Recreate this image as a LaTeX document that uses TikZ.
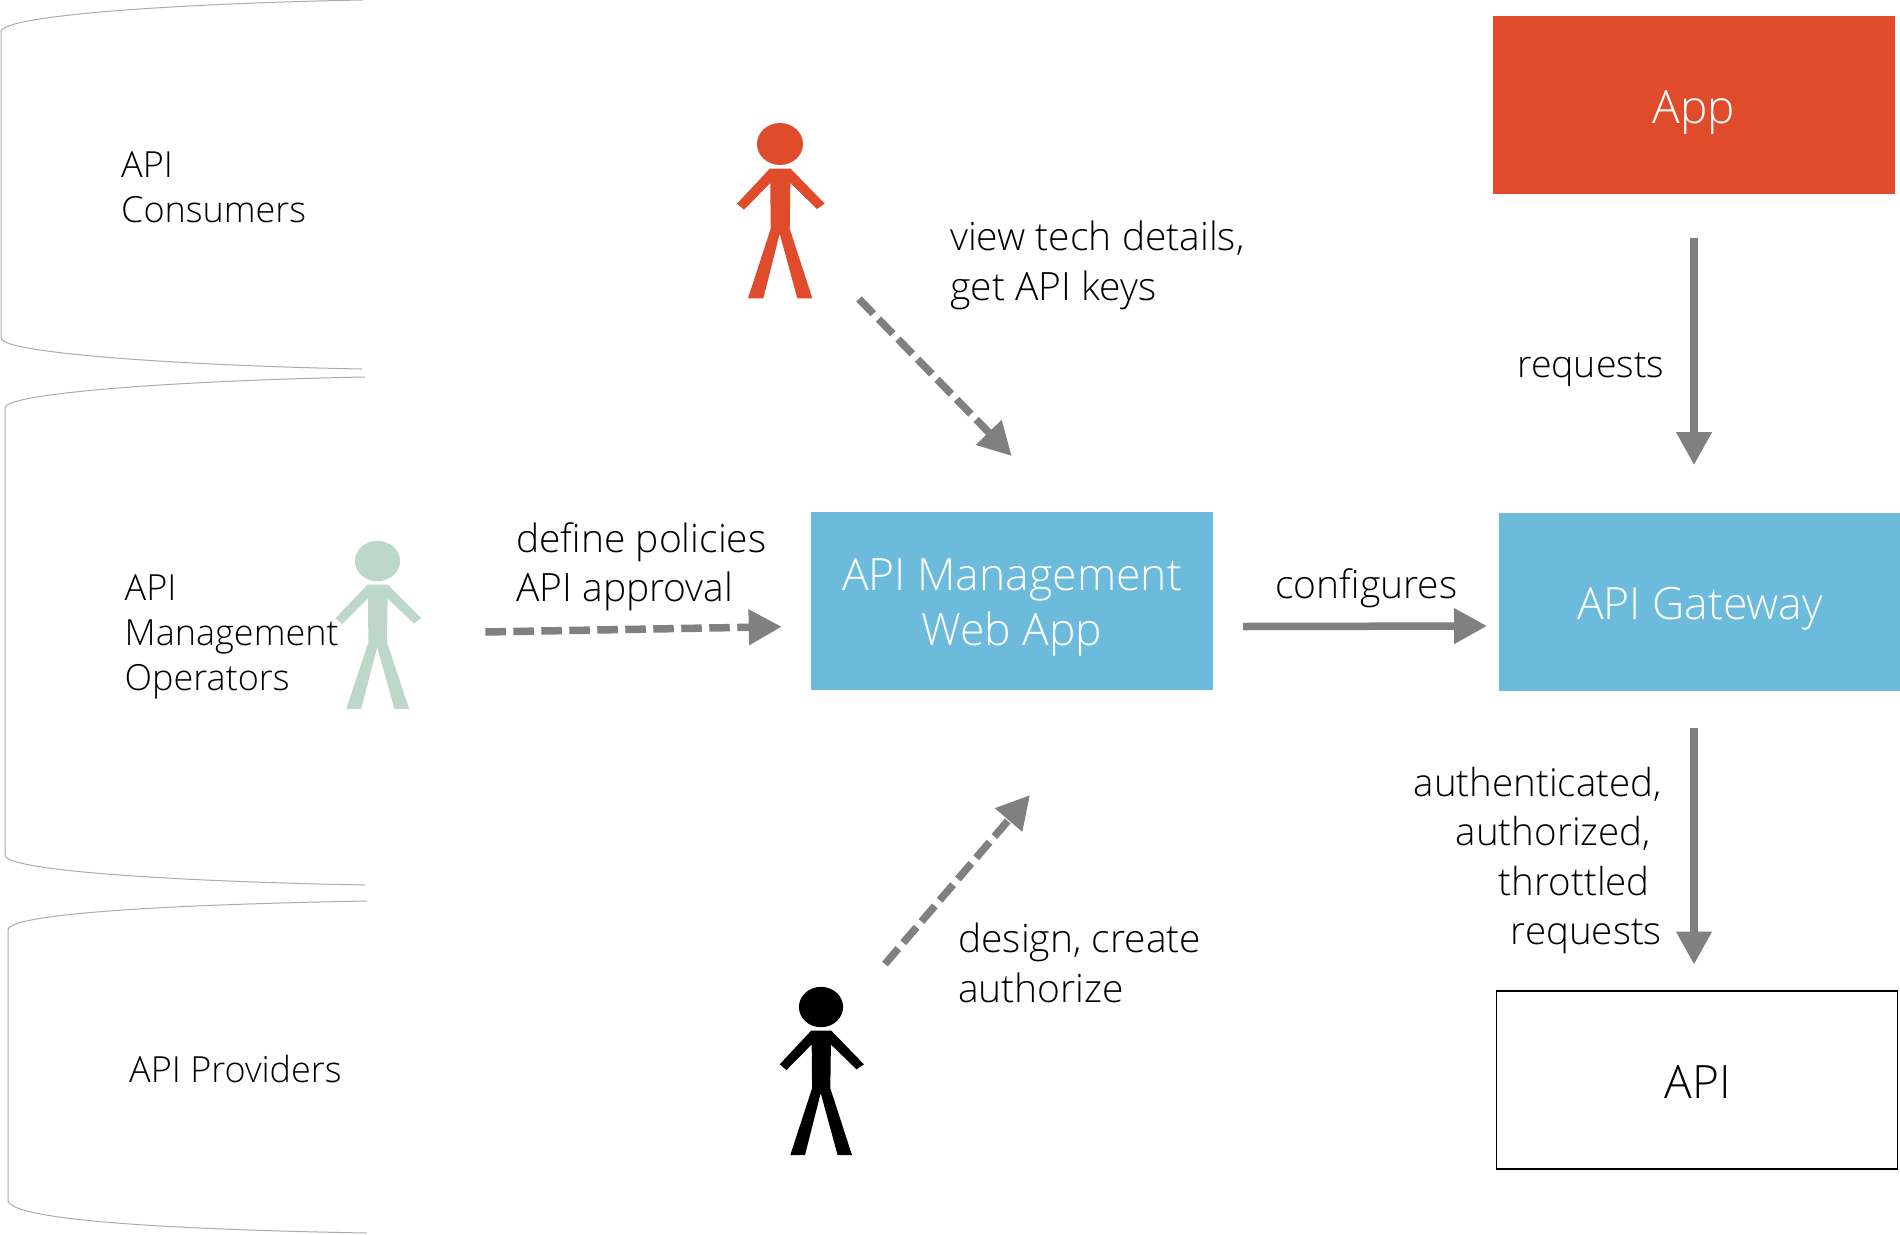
\documentclass[tikz,border=0pt]{standalone}
\usepackage{fontspec}
\setmainfont{Open Sans}[UprightFont=* Light]
\usetikzlibrary{arrows.meta}
\definecolor{arrowgrey}{HTML}{808080}
\definecolor{appred}{HTML}{E04C2B}
\definecolor{webblue}{HTML}{6CBBDD}
\definecolor{opgreen}{HTML}{BDD7CA}
\definecolor{laneline}{HTML}{ABABAB}
\tikzset{
  lane/.style={draw=laneline,line width=1pt},
  box/.style={minimum width=402pt,minimum height=178pt,inner sep=0pt,font=\fontsize{46}{55}\selectfont,align=center},
  smallbox/.style={box,font=\fontsize{44.5}{55}\selectfont},
  flow/.style={arrowgrey,line width=7.5pt,-{Triangle[length=33pt,width=34pt]}},
  dashflow/.style={flow,dash pattern=on 20.5pt off 7.5pt},
  lbl/.style={inner sep=0pt,anchor=north west,align=left,font=\fontsize{36}{45}\selectfont,text=black},
  note/.style={inner sep=0pt,anchor=north west,align=left,font=\fontsize{39}{49.5}\selectfont,text=black},
}
\newcommand{\stickman}[5]{% x y colour xscale yscale
  \begin{scope}[shift={(#1,#2)},xscale=#4,yscale=#5]
    \fill[#3] (0,0) ellipse [x radius=23pt,y radius=21pt];
    \fill[#3] (-10.3,24.7)--(10.7,24.7)--(44.7,59.7)--(37,65)--(10.3,39)--(9.7,84.7)--(32.3,154.3)--(17.3,154.3)--(-0.3,89.7)--(-16.7,154.3)--(-32,154.3)--(-9.3,84.7)--(-9.7,39)--(-36,65.7)--(-43,59.7)--cycle;
  \end{scope}}
\begin{document}
\begin{tikzpicture}[x=1pt,y=-1pt]
\useasboundingbox (0,0) rectangle (1900,1234);
% lanes
\draw[lane] (362,0) .. controls (200,3) and (1,14) .. (1,32) -- (1,338) .. controls (1,354) and (200,366) .. (362,369);
\draw[lane] (365,377) .. controls (200,380) and (5,392) .. (5,408) -- (5,855) .. controls (5,872) and (200,882) .. (365,885);
\draw[lane] (367,901) .. controls (200,904) and (8,912) .. (8,930) -- (8,1200) .. controls (8,1222) and (200,1230) .. (367,1233);
% lane labels
\node[lbl] (consumers) at (121,151) {API\\Consumers};
\node[lbl] (operators) at (124.5,574) {API\\Management\\Operators};
\node[lbl] (providers) at (129,1055) {API Providers};
% boxes
\node[box,fill=appred,text=white] (app) at (1694,105) {\rule{0pt}{49pt}\rule[-10pt]{0pt}{10pt}App};
\node[smallbox,fill=webblue,text=white] (webapp) at (1012,600.5) {\rule{0pt}{45pt}API Management\\Web App};
\node[smallbox,fill=webblue,text=white] (gateway) at (1700,602) {\rule{0pt}{45pt}\rule[-10pt]{0pt}{10pt}API Gateway};
\node[box,draw=black,line width=1.6pt,minimum width=401pt] (api) at (1697,1080) {\rule{0pt}{46pt}\rule[-10pt]{0pt}{10pt}\hspace*{2pt}API};
% people
\stickman{780}{144}{appred}{1}{1}
\stickman{377.5}{561}{opgreen}{0.98}{0.96}
\stickman{821}{1007}{black}{0.96}{0.96}
% anchors for connectors
\coordinate (redfrom) at (859,299);
\coordinate (redto) at (1011.7,456);
\coordinate (greenfrom) at (485.3,632);
\coordinate (greento) at (781.7,626.7);
\coordinate (blackfrom) at (885,964);
\coordinate (blackto) at (1030,795);
\coordinate (cfgfrom) at (1243,626.5);
\coordinate (cfgto) at (1487,626);
\coordinate (reqfrom) at (1694,237.5);
\coordinate (reqto) at (1694,465);
\coordinate (authfrom) at (1694,728);
\coordinate (authto) at (1694,964.5);
% connectors
\draw[dashflow] (redfrom) -- (redto);
\draw[dashflow] (greenfrom) -- (greento);
\draw[dashflow] (blackfrom) -- (blackto);
\draw[flow] (cfgfrom) -- (cfgto);
\draw[flow] (reqfrom) -- (reqto);
\draw[flow] (authfrom) -- (authto);
% connector labels
\node[note] (viewlbl) at (950,221) {view tech details,\\get API keys};
\node[note] (definelbl) at (516,522) {define policies\\API approval};
\node[note] (designlbl) at (958,923) {design, create\\authorize};
\node[note] (configlbl) at (1275,568) {configures};
\node[note,font=\fontsize{37.5}{45}\selectfont] (reqlbl) at (1517,353) {requests};
\node[note,anchor=north east,align=right,font=\fontsize{38.5}{49.5}\selectfont] (authlbl) at (1662,767) {authenticated,\\authorized,\rule{11pt}{0pt}\\throttled\rule{12pt}{0pt}\\requests};
\end{tikzpicture}
\end{document}
